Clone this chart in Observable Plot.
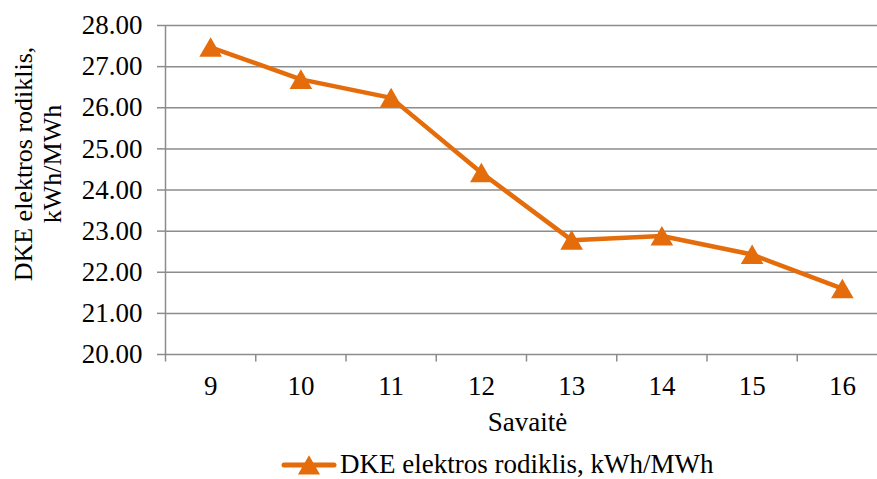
<!DOCTYPE html>
<html>
<head>
<meta charset="utf-8">
<script src="https://cdn.jsdelivr.net/npm/d3@7"></script>
<script src="https://cdn.jsdelivr.net/npm/@observablehq/plot@0.6"></script>
<style>
  html, body { margin: 0; padding: 0; background: #fff; }
  #chart svg { display: block; }
  #legend { position: relative; width: 877px; height: 39px; }
</style>
</head>
<body>
<div id="chart"></div>
<div id="legend"></div>
<script>
const weeks = [9, 10, 11, 12, 13, 14, 15, 16];
const values = [27.47, 26.69, 26.24, 24.42, 22.78, 22.88, 22.43, 21.60];
const yTicks = [20, 21, 22, 23, 24, 25, 26, 27, 28];
const seriesName = "DKE elektros rodiklis, kWh/MWh";
const xTitle = "Savaitė";
const yTitle = "DKE elektros rodiklis,\nkWh/MWh";

const data = weeks.map((w, i) => ({week: w, value: values[i]}));
const boundaries = weeks.map(w => w - 0.5);

const ORANGE = "#E46C0A";
const GRID = "#8c8c8c";
const FONT = "'Liberation Serif', 'Times New Roman', serif";

const chart = Plot.plot({
  width: 877,
  height: 440,
  marginLeft: 165,
  marginRight: 0,
  marginTop: 25,
  marginBottom: 86,
  style: {fontFamily: FONT, fontSize: "27px", color: "#000", background: "#fff"},
  x: {type: "linear", domain: [8.5, 16.5], range: [165, 887]},
  y: {domain: [20, 28]},
  marks: [
    Plot.ruleY(yTicks, {stroke: GRID, strokeWidth: 1.5}),
    Plot.ruleX([8.5], {y1: 20, y2: 28, stroke: GRID, strokeWidth: 1.5}),
    Plot.axisY({ticks: yTicks, tickFormat: d => d.toFixed(2), tickSize: 8, tickPadding: 15,
      stroke: GRID, strokeWidth: 1.5, fill: "#000", fontSize: 27, label: null}),
    Plot.axisX({ticks: boundaries, tickFormat: () => "", tickSize: 7.5,
      stroke: GRID, strokeWidth: 1.5, label: null}),
    Plot.axisX({ticks: weeks, tickFormat: d => String(d), tickSize: 0, tickPadding: 21,
      fill: "#000", fontSize: 27, label: null}),
    Plot.text([xTitle], {frameAnchor: "bottom", lineAnchor: "top", dx: 6, dy: 57,
      fill: "#000", fontSize: 27}),
    Plot.text([yTitle], {frameAnchor: "left", rotate: -90, dx: -128, dy: -26,
      textAnchor: "middle", lineAnchor: "middle", lineHeight: 1.1, fill: "#000", fontSize: 26}),
    Plot.line(data, {x: "week", y: "value", stroke: ORANGE, strokeWidth: 4.5,
      strokeLinejoin: "round", strokeLinecap: "round"}),
    Plot.dot(data, {x: "week", y: "value", symbol: "triangle", r: 8.4, fill: ORANGE,
      stroke: "none", dy: 3})
  ]
});
document.getElementById("chart").append(chart);

// Legend below the chart
const lg = d3.select("#legend").append("svg")
  .attr("width", 877).attr("height", 39)
  .style("display", "block");
lg.append("line")
  .attr("x1", 284).attr("x2", 334).attr("y1", 25).attr("y2", 25)
  .attr("stroke", ORANGE).attr("stroke-width", 5).attr("stroke-linecap", "round");
lg.append("path")
  .attr("d", d3.symbol(d3.symbolTriangle, Math.PI * 8.2 * 8.2)())
  .attr("transform", "translate(309,28)")
  .attr("fill", ORANGE);
lg.append("text")
  .attr("x", 340).attr("y", 33)
  .attr("font-family", FONT).attr("font-size", 27).attr("fill", "#000")
  .text(seriesName);
</script>
</body>
</html>
